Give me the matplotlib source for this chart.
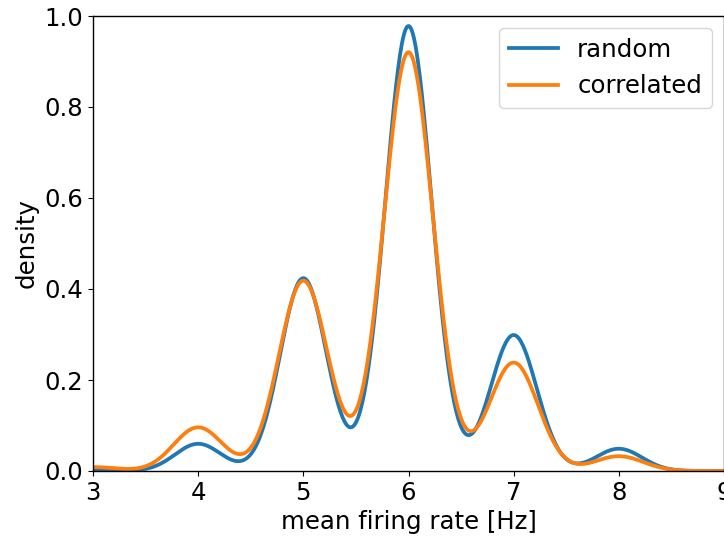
import numpy as np
import matplotlib
matplotlib.use("Agg")
import matplotlib.pyplot as plt
import seaborn as sns

# firing rates (Hz) and how many neurons fire at each rate, per network
rates = [3, 4, 5, 6, 7, 8]
counts_random = [1, 33, 234, 540, 165, 27]
counts_correlated = [5, 56, 244, 537, 139, 19]

samples_random = np.repeat(rates, counts_random)
samples_correlated = np.repeat(rates, counts_correlated)

plt.rcParams['font.size'] = 17.6
plt.rcParams['axes.linewidth'] = 1.0

fig = plt.figure(figsize=(7.24, 5.41), dpi=100)
ax = fig.add_axes([93/724, 70/541, 631/724, 455/541])

sns.kdeplot(x=samples_random, ax=ax, bw_method=0.275, cut=10, gridsize=1000,
            color='C0', lw=2.7, label='random')
sns.kdeplot(x=samples_correlated, ax=ax, bw_method=0.28, cut=10, gridsize=1000,
            color='C1', lw=2.7, label='correlated')

ax.set_xlim(3, 9)
ax.set_ylim(0, 1.0)
ax.set_xlabel('mean firing rate [Hz]')
ax.set_ylabel('density')
ax.legend(loc='upper right')

fig.savefig('out.png', dpi=100)
